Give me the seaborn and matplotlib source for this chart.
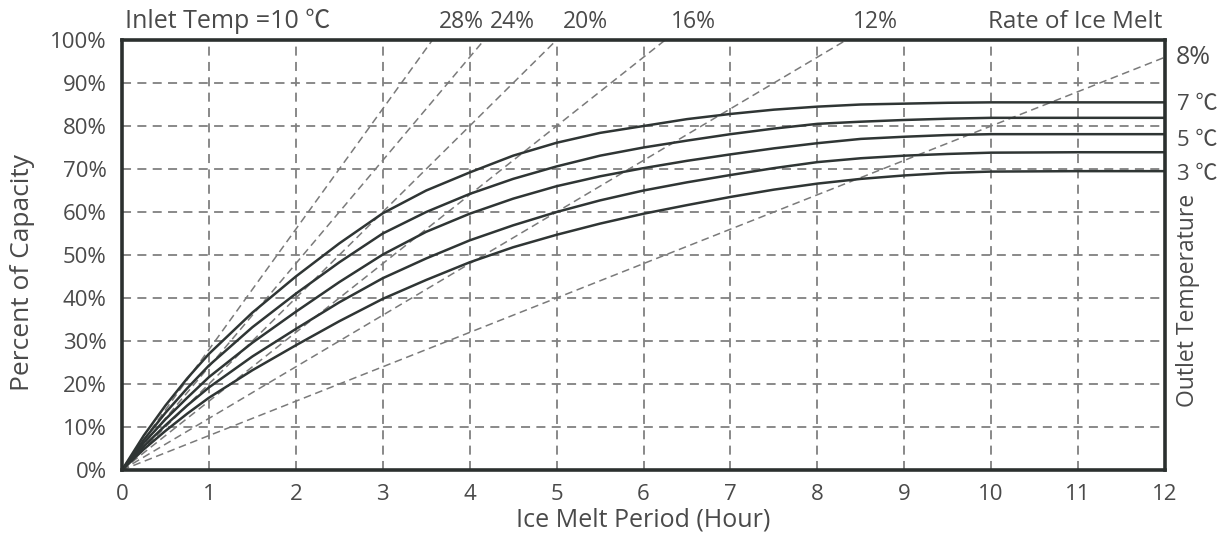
import numpy as np
import pandas as pd
import matplotlib
matplotlib.use("Agg")
import matplotlib.pyplot as plt
import seaborn as sns
from matplotlib.ticker import MultipleLocator, FuncFormatter

# ---- data ----
hours = [0, 0.25, 0.5, 0.75, 1, 1.5, 2, 2.5, 3, 3.5, 4, 4.5, 5, 5.5, 6, 6.5, 7, 7.5, 8, 8.5, 9, 9.5, 10, 11, 12]
curve_7c = [0, 8.0, 15.0, 21.3, 27.0, 36.6, 45.0, 52.7, 59.7, 65.0, 69.2, 73.1, 76.1, 78.4, 80.0, 81.6, 82.8, 83.8, 84.5, 85.0, 85.2, 85.4, 85.5, 85.5, 85.5]
curve_6c = [0, 7.0, 13.3, 19.0, 24.3, 33.2, 41.0, 48.3, 55.0, 60.0, 64.2, 67.7, 70.6, 73.1, 75.0, 76.6, 78.1, 79.4, 80.5, 81.0, 81.4, 81.7, 81.9, 81.9, 81.9]
curve_5c = [0, 6.3, 11.8, 16.8, 21.6, 29.6, 36.8, 43.7, 50.1, 55.4, 59.6, 63.1, 66.0, 68.3, 70.2, 71.9, 73.4, 74.8, 76.0, 77.0, 77.5, 77.9, 78.1, 78.1, 78.1]
curve_4c = [0, 5.5, 10.4, 15.0, 19.2, 26.4, 32.8, 39.0, 44.6, 49.2, 53.4, 56.9, 60.0, 62.7, 65.0, 66.9, 68.6, 70.2, 71.6, 72.5, 73.1, 73.5, 73.8, 73.9, 73.9]
curve_3c = [0, 4.8, 9.1, 13.1, 16.8, 23.2, 29.0, 34.6, 39.8, 44.2, 48.3, 51.8, 54.7, 57.3, 59.6, 61.6, 63.5, 65.2, 66.6, 67.7, 68.5, 69.1, 69.4, 69.5, 69.5]
curve_names = ["7 ℃", "6 ℃", "5 ℃", "4 ℃", "3 ℃"]
melt_rates = [28, 24, 20, 16, 12, 8]          # % per hour
rate_labels = ["28%", "24%", "20%", "16%", "12%", "8%"]
temp_labels = ["7 ℃", "5 ℃", "3 ℃"]
x_ticks = list(range(0, 13))
y_ticks = list(range(0, 101, 10))

# ---- long-form tables ----
curves = [curve_7c, curve_6c, curve_5c, curve_4c, curve_3c]
df_curves = pd.DataFrame({
    "hour": np.tile(hours, len(curves)),
    "pct": np.concatenate(curves),
    "temp": np.repeat(curve_names, len(hours)),
})
rate_hours = np.array([0, 12])
df_rates = pd.DataFrame({
    "hour": np.tile(rate_hours, len(melt_rates)),
    "pct": np.concatenate([r * rate_hours for r in melt_rates]),
    "rate": np.repeat(rate_labels, len(rate_hours)),
})

sns.set_theme(style="white")
plt.rcParams["font.family"] = ["Open Sans", "Noto Sans CJK TC", "DejaVu Sans"]
TXT = "#4a4a4a"
FS = 16

fig = plt.figure(figsize=(12.32, 5.45), dpi=100)
ax = fig.add_axes([122 / 1232, 1 - 470 / 545, (1165 - 122) / 1232, (470 - 40) / 545])

# grid
ax.grid(True, which="major", color="#808080", linestyle=(0, (5, 3.5)), linewidth=1.3)
ax.set_axisbelow(True)

# rate lines
sns.lineplot(data=df_rates, x="hour", y="pct", units="rate", estimator=None,
             color="#7a7a7a", linewidth=1.1, linestyle=(0, (5, 3)), ax=ax, legend=False)
# outlet temperature curves
sns.lineplot(data=df_curves, x="hour", y="pct", units="temp", estimator=None,
             color="#2f3534", linewidth=1.8, ax=ax, legend=False)

ax.set_xlim(0, 12)
ax.set_ylim(0, 100)
ax.xaxis.set_minor_locator(MultipleLocator(0.5))
ax.yaxis.set_minor_locator(MultipleLocator(2))
ax.set_xticks(x_ticks)
ax.set_yticks(y_ticks)
ax.yaxis.set_major_formatter(FuncFormatter(lambda v, p: f"{int(v)}%"))
ax.tick_params(axis="both", which="major", labelsize=FS, colors=TXT, length=8, width=1.0,
               direction="out", color="#666666")
ax.tick_params(axis="both", which="minor", length=4, width=0.8, direction="in", color="#666666")
ax.tick_params(axis="x", which="major", pad=2)
ax.tick_params(axis="y", which="major", pad=3)

for s in ax.spines.values():
    s.set_color("#2b302f")
    s.set_linewidth(2.6)
    s.set_visible(True)

ax.set_xlabel("Ice Melt Period (Hour)", fontsize=FS + 2, color=TXT, labelpad=2)
ax.set_ylabel("Percent of Capacity", fontsize=FS + 3, color=TXT)
ax.yaxis.set_label_coords(-0.083, 0.46)

# top annotations
ax.text(0.04, 101.3, "Inlet Temp =10 ℃", fontsize=FS + 2, color=TXT, ha="left", va="bottom")
ax.text(11.97, 101.3, "Rate of Ice Melt", fontsize=FS + 1.5, color=TXT, ha="right", va="bottom")
for r, lab in zip(melt_rates[:-1], rate_labels[:-1]):
    ax.text(100 / r + 0.33, 101.3, lab, fontsize=FS + 0.5, color=TXT, ha="center", va="bottom")
# 8% label at right
ax.text(12.12, melt_rates[-1] * 12, rate_labels[-1], fontsize=FS + 2, color=TXT, ha="left", va="center")
# outlet temperatures at right
for lab, val, dy in zip(temp_labels, [curve_7c[-1], curve_5c[-1], curve_3c[-1]], [-0.5, -1.5, -0.8]):
    ax.text(12.14, val + dy, lab, fontsize=FS, color=TXT, ha="left", va="center")
ax.text(12.27, 39.5, "Outlet Temperature", fontsize=FS + 0.5, color=TXT, ha="center", va="center", rotation=90)

fig.savefig("out.png", dpi=100, facecolor="white")
